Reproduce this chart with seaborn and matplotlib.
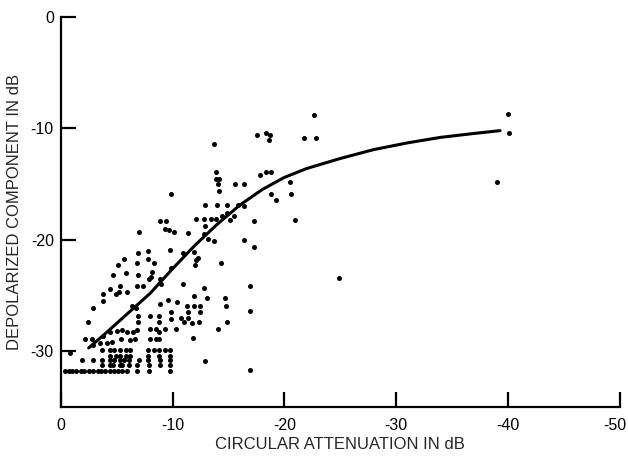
"""
plot.py

Depolarized component vs circular attenuation scatter with fitted curve
"""

import matplotlib
matplotlib.use("Agg")
import matplotlib.pyplot as plt
import matplotlib.transforms as mtransforms
import seaborn as sns
import pandas as pd

OUTLIER_X = [-40.0, -40.1, -39.0, -24.9, -22.7, -21.8, -22.8,
             -17.6, -18.4, -18.7, -18.6, -13.7,
             -13.9, -13.9, -14.2, -14.1, -14.2, -15.6, -16.4, -9.9,
             -17.8, -18.4, -18.8, -20.5, -18.8, -19.3, -20.6, -21.0]
OUTLIER_Y = [-8.7, -10.4, -14.8, -23.4, -8.8, -10.9, -10.9,
             -10.6, -10.4, -10.6, -11.0, -11.4,
             -13.9, -14.5, -14.5, -15.0, -15.6, -15.0, -15.0, -15.9,
             -14.2, -13.9, -13.9, -14.8, -15.9, -16.4, -15.9, -18.2]

MID_X = [-12.9, -14.0, -14.9, -15.9, -16.4, -8.9, -9.4,
         -12.1, -12.8, -13.4, -13.9, -14.4, -14.9, -15.1, -15.5, -17.3,
         -9.3, -9.7, -10.1, -11.4, -12.9, -12.8, -13.2, -13.7, -16.4, -17.3,
         -9.8, -10.9, -11.9, -12.3, -14.3, -12.0, -9.9, -10.9, -12.8, -16.9,
         -7.0, -6.9, -7.8, -7.8, -5.7, -6.8, -5.1, -5.8, -4.7, -6.9,
         -8.2, -8.1, -7.9, -5.3, -4.4, -6.8, -7.4, -8.3, -8.9, -9.0, -12.1]
MID_Y = [-16.9, -16.9, -16.9, -16.9, -17.0, -18.3, -18.3,
         -18.1, -18.1, -18.1, -18.1, -17.9, -17.6, -18.2, -17.9, -18.3,
         -19.0, -19.1, -19.3, -19.4, -18.8, -19.5, -19.9, -20.1, -20.0, -20.6,
         -20.9, -21.2, -21.1, -21.6, -22.1, -22.3, -22.5, -24.0, -24.3, -24.1,
         -19.3, -21.2, -21.0, -21.7, -21.7, -22.1, -22.3, -23.0, -23.2, -23.2,
         -22.9, -23.3, -23.5, -24.1, -24.4, -24.1, -24.1, -22.1, -23.5, -24.0, -21.8]

LOW_X = [-11.9, -13.1, -14.7, -14.8, -16.9, -9.6, -10.4, -11.3, -11.9, -12.5,
         -8.9, -9.9, -11.4, -12.5, -9.9, -10.8, -11.4, -11.0, -11.7, -12.4,
         -14.9, -9.3, -10.3, -14.1, -11.8, -12.9, -16.9,
         -3.8, -4.9, -5.2, -5.9, -3.8, -2.9, -6.4, -6.7, -2.4, -6.9, -6.9,
         -5.9, -6.5, -6.8, -4.4, -5.0, -5.5, -5.4, -6.2, -6.6, -3.8,
         -2.2, -2.8, -3.5, -4.1, -4.6, -2.9,
         -8.0, -8.5, -8.0, -8.5, -8.8, -8.8, -8.8, -8.0, -8.8, -0.8]
LOW_Y = [-25.0, -25.2, -25.2, -25.9, -26.4, -25.4, -25.6, -25.9, -25.9, -25.9,
         -25.8, -26.5, -26.5, -26.5, -27.1, -27.0, -27.0, -27.4, -27.5, -27.4,
         -27.4, -28.0, -28.0, -28.0, -28.8, -30.9, -31.7,
         -24.9, -24.9, -24.7, -24.7, -25.5, -26.1, -25.9, -26.1, -27.4, -26.8, -27.4,
         -28.3, -28.3, -28.1, -28.3, -28.2, -28.1, -28.9, -29.0, -28.9, -28.6,
         -28.9, -28.9, -29.3, -29.3, -29.2, -29.4,
         -28.0, -28.0, -28.9, -28.9, -27.4, -28.3, -28.9, -26.8, -26.8, -30.2]

FLOOR_X = [-3.7, -4.4, -4.8, -5.3, -5.8, -6.2, -7.8, -8.3, -8.8, -9.3, -9.8,
           -4.4, -4.9, -5.3, -5.8, -6.2, -7.8, -8.8, -9.8,
           -1.9, -2.9, -3.7, -4.4, -4.8, -5.3, -5.7, -6.1, -7.0, -7.8, -8.9, -9.8,
           -3.7, -4.4, -4.7, -5.3, -5.5, -6.1, -6.8, -7.9, -8.9, -9.8,
           -0.4, -0.7, -1.0, -1.4, -1.8, -2.1, -2.5, -2.9, -3.3, -3.6,
           -4.0, -4.4, -4.8, -5.1, -5.5, -5.9, -6.8, -7.9, -9.8]
FLOOR_Y = [-29.9, -29.9, -29.9, -29.9, -29.9, -29.9, -29.9, -29.9, -29.9, -29.9, -29.9,
           -30.4, -30.4, -30.4, -30.4, -30.4, -30.4, -30.4, -30.4,
           -30.8, -30.8, -30.8, -30.8, -30.8, -30.8, -30.8, -30.8, -30.8, -30.8, -30.8, -30.8,
           -31.2, -31.2, -31.2, -31.2, -31.2, -31.2, -31.2, -31.2, -31.2, -31.2,
           -31.8, -31.8, -31.8, -31.8, -31.8, -31.8, -31.8, -31.8, -31.8, -31.8,
           -31.8, -31.8, -31.8, -31.8, -31.8, -31.8, -31.8, -31.8, -31.8]

# fitted curve
CURVE_X = [-2.5, -4, -6, -8, -10, -12, -14, -16, -18, -20, -22, -25, -28, -31, -34, -37, -39.3]
CURVE_Y = [-29.7, -28.4, -26.6, -24.8, -22.6, -20.5, -18.6, -16.9, -15.5, -14.4, -13.6,
           -12.7, -11.9, -11.3, -10.8, -10.45, -10.2]

X_TICKS = [0, -10, -20, -30, -40, -50]
Y_TICKS = [0, -10, -20, -30]


def main() -> None:
    sns.set_style("ticks")
    plt.rcParams["font.family"] = ["Liberation Sans", "DejaVu Sans"]

    points = pd.DataFrame({
        "atten": OUTLIER_X + MID_X + LOW_X + FLOOR_X,
        "depol": OUTLIER_Y + MID_Y + LOW_Y + FLOOR_Y,
    })
    curve = pd.DataFrame({"atten": CURVE_X, "depol": CURVE_Y})

    fig = plt.figure(figsize=(6.28, 4.58), dpi=100)
    ax = fig.add_axes([0.0967, 0.1114, 0.89, 0.8515])

    sns.scatterplot(data=points, x="atten", y="depol", ax=ax,
                    color="black", s=13, linewidth=0, legend=False)
    sns.lineplot(data=curve, x="atten", y="depol", ax=ax, sort=False,
                 color="black", linewidth=2.2)

    ax.set_xlim(0, -50)
    ax.set_ylim(-35, 0)
    ax.set_xticks(X_TICKS)
    ax.set_yticks(Y_TICKS)
    ax.set_xticklabels([str(t) for t in X_TICKS])
    ax.set_yticklabels([str(t) for t in Y_TICKS])

    sns.despine(ax=ax)
    for side in ("left", "bottom"):
        ax.spines[side].set_linewidth(1.6)
        ax.spines[side].set_color("black")
    ax.tick_params(direction="in", length=11, width=1.6, colors="black",
                   labelsize=11.5)
    ax.tick_params(axis="x", pad=8)
    ax.tick_params(axis="y", pad=5)

    # last x label sits right at the page edge, nudge it in a little
    last = ax.get_xticklabels()[-1]
    last.set_transform(last.get_transform() +
                       mtransforms.ScaledTranslation(-5 / 100, 0, fig.dpi_scale_trans))

    ax.set_xlabel("CIRCULAR ATTENUATION IN dB", fontsize=12, labelpad=3)
    ax.set_ylabel("DEPOLARIZED COMPONENT IN dB", fontsize=12, labelpad=6)

    plt.savefig("out.png", dpi=100, facecolor="white")
    plt.close()


if __name__ == "__main__":
    main()
